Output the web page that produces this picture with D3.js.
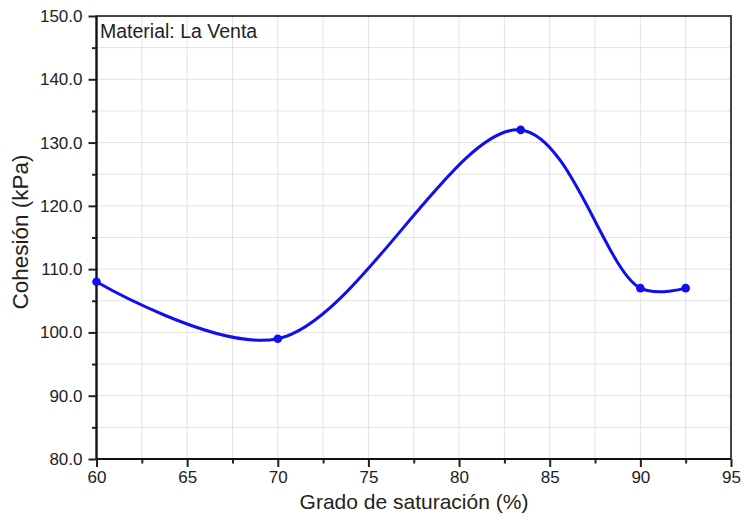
<!DOCTYPE html>
<html><head><meta charset="utf-8">
<script src="https://cdn.jsdelivr.net/npm/d3@7"></script>
<style>body{margin:0;background:#fff}svg{display:block}text{font-family:"Liberation Sans",Arial,sans-serif;fill:#222}</style>
</head><body>
<script>
const saturation = [60, 70, 83.4, 90, 92.5];
const cohesion = [108, 99, 132, 107, 107];
const xTicks = [60, 65, 70, 75, 80, 85, 90, 95];
const yTicks = [80, 90, 100, 110, 120, 130, 140, 150];
const title = "Material: La Venta";

const W = 748, H = 520;
const m = {l: 96.5, r: 731, t: 16, b: 459};
const svg = d3.select("body").append("svg").attr("width", W).attr("height", H);
const x = d3.scaleLinear().domain([60, 95]).range([m.l, m.r]);
const y = d3.scaleLinear().domain([80, 150]).range([m.b, m.t]);

// grid
const xGrid = d3.range(62.5, 95, 2.5);
const yGrid = d3.range(85, 150, 5);
svg.append("g").selectAll("line").data(xGrid).join("line")
  .attr("x1", d => x(d)).attr("x2", d => x(d)).attr("y1", m.t).attr("y2", m.b)
  .attr("stroke", "#e2e2e2").attr("stroke-width", 1);
svg.append("g").selectAll("line").data(yGrid).join("line")
  .attr("y1", d => y(d)).attr("y2", d => y(d)).attr("x1", m.l).attr("x2", m.r)
  .attr("stroke", "#e2e2e2").attr("stroke-width", 1);

// axes
const xAxis = svg.append("g").attr("transform", `translate(0,${m.b})`)
  .call(d3.axisBottom(x).tickValues(xTicks).tickFormat(d3.format("d")).tickSize(8).tickPadding(4));
const xMinor = svg.append("g").attr("transform", `translate(0,${m.b})`)
  .call(d3.axisBottom(x).tickValues(d3.range(62.5, 95, 5)).tickFormat("").tickSize(4.5));
const yAxis = svg.append("g").attr("transform", `translate(${m.l},0)`)
  .call(d3.axisLeft(y).tickValues(yTicks).tickFormat(d3.format(".1f")).tickSize(8).tickPadding(6));
const yMinor = svg.append("g").attr("transform", `translate(${m.l},0)`)
  .call(d3.axisLeft(y).tickValues(d3.range(85, 150, 10)).tickFormat("").tickSize(4.5));
[xAxis, xMinor, yAxis, yMinor].forEach(g => {
  g.select(".domain").remove();
  g.selectAll("line").attr("stroke", "#222").attr("stroke-width", 2);
  g.selectAll("text").style("font-size", "17px").attr("fill", "#222");
});

// frame
svg.append("rect").attr("x", m.l).attr("y", m.t).attr("width", m.r - m.l).attr("height", m.b - m.t)
  .attr("fill", "none").attr("stroke", "#444").attr("stroke-width", 2);
svg.append("line").attr("x1", m.l).attr("x2", m.r).attr("y1", m.b).attr("y2", m.b).attr("stroke", "#111").attr("stroke-width", 2);
svg.append("line").attr("x1", m.l).attr("x2", m.l).attr("y1", m.t).attr("y2", m.b).attr("stroke", "#111").attr("stroke-width", 2);

const pts = saturation.map((s, i) => [s, cohesion[i]]);
const line = d3.line().x(d => x(d[0])).y(d => y(d[1])).curve(d3.curveCatmullRom.alpha(0.5));
svg.append("path").attr("d", line(pts)).attr("fill", "none").attr("stroke", "#1010ee").attr("stroke-width", 3);

svg.append("g").selectAll("circle").data(pts).join("circle")
  .attr("cx", d => x(d[0])).attr("cy", d => y(d[1])).attr("r", 4.3).attr("fill", "#1010ee");

// labels
svg.append("text").attr("x", 100).attr("y", 38).style("font-size", "19.5px").text(title);
svg.append("text").attr("x", 414).attr("y", 509).attr("text-anchor", "middle")
  .style("font-size", "21px").text("Grado de saturación (%)");
svg.append("text").attr("transform", `translate(28,232) rotate(-90)`).attr("text-anchor", "middle")
  .style("font-size", "22.5px").text("Cohesión (kPa)");
</script>
</body></html>
